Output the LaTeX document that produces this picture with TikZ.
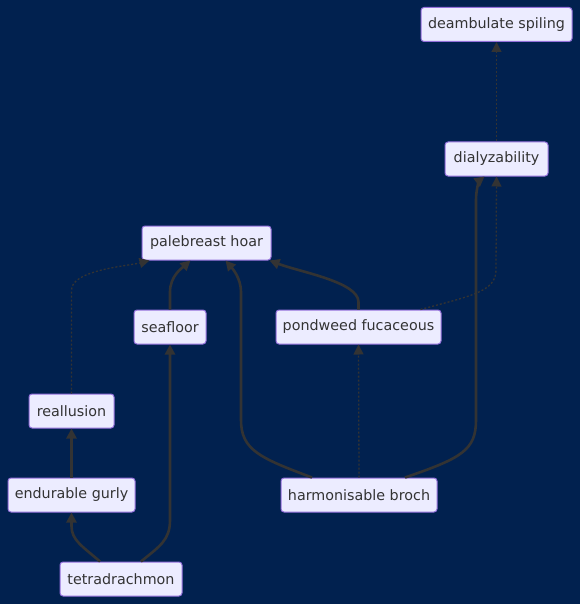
\documentclass[tikz,border=0pt]{standalone}
\usepackage{fontspec}
\setmainfont{DejaVu Sans}
\usetikzlibrary{arrows.meta}
\definecolor{bg}{HTML}{01214F}
\definecolor{nfill}{HTML}{ECECFF}
\definecolor{nborder}{HTML}{9370DB}
\definecolor{edge}{HTML}{333333}
\definecolor{txt}{HTML}{333333}
\tikzset{
  box/.style={draw=nborder, fill=nfill, line width=1pt, rounded corners=3pt, minimum height=34pt, inner sep=0pt, text=txt, font=\fontsize{14.3}{17}\selectfont},
  solidedge/.style={draw=edge, line width=2.6pt, -{Triangle[length=10pt,width=10pt]}},
  dotedge/.style={draw=edge, line width=1.3pt, dash pattern=on 2pt off 2pt, -{Triangle[length=10pt,width=10pt]}}
}
\begin{document}
\begin{tikzpicture}[x=1pt,y=-1pt]
\fill[bg] (0,0) rectangle (580,604);
\useasboundingbox (0,0) rectangle (580,604);
\node[box, minimum width=151pt] (deam) at (496.5,24.5) {deambulate spiling};
\node[box, minimum width=103pt] (dial) at (496.5,159) {dialyzability};
\node[box, minimum width=129pt] (pale) at (206.5,243) {palebreast hoar};
\node[box, minimum width=72pt] (sea) at (170,327) {seafloor};
\node[box, minimum width=165pt] (pond) at (358.5,327) {pondweed fucaceous};
\node[box, minimum width=85pt] (real) at (71.5,411) {reallusion};
\node[box, minimum width=127pt] (endu) at (71.5,495) {endurable gurly};
\node[box, minimum width=156pt] (harm) at (359,495) {harmonisable broch};
\node[box, minimum width=122pt] (tetra) at (121,579) {tetradrachmon};

% dial -> deam
\draw[dotedge] (dial.north) -- (deam.south);
% pond -> dial (dotted)
\draw[dotedge] ([xshift=-21pt]pond.north east) .. controls (470,296) and (496,292) .. (496,270) -- (dial.south);
% harm -> dial
\draw[solidedge] ([xshift=46pt]harm.north) .. controls (462,458) and (476,450) .. (476,420) -- (476,200) .. controls (476,188) and (480,180) .. ([xshift=-12pt]dial.south);
% real -> pale (dotted)
\draw[dotedge] (real.north) -- (71.5,290) .. controls (71.5,270) and (128,266) .. ([xshift=8pt]pale.south west);
% sea -> pale
\draw[solidedge] (sea.north) -- (170,292) .. controls (170,276) and (182,268) .. ([xshift=-16pt]pale.south);
% harm -> pale
\draw[solidedge] ([xshift=-47pt]harm.north) .. controls (260,458) and (241,450) .. (241,420) -- (241,292) .. controls (241,278) and (232,268) .. ([xshift=19pt]pale.south);
% pond -> pale
\draw[solidedge] (pond.north) -- (358.5,302) .. controls (358.5,282) and (300,272) .. ([xshift=-2pt]pale.south east);
% harm -> pond (dotted)
\draw[dotedge] (harm.north) -- (pond.south);
% endu -> real
\draw[solidedge] (endu.north) -- (real.south);
% tetra -> endu
\draw[solidedge] ([xshift=-21pt]tetra.north) .. controls (82,546) and (71.5,540) .. (71.5,526) -- (endu.south);
% tetra -> sea
\draw[solidedge] ([xshift=20pt]tetra.north) .. controls (160,546) and (170,540) .. (170,520) -- (sea.south);
\end{tikzpicture}
\end{document}
